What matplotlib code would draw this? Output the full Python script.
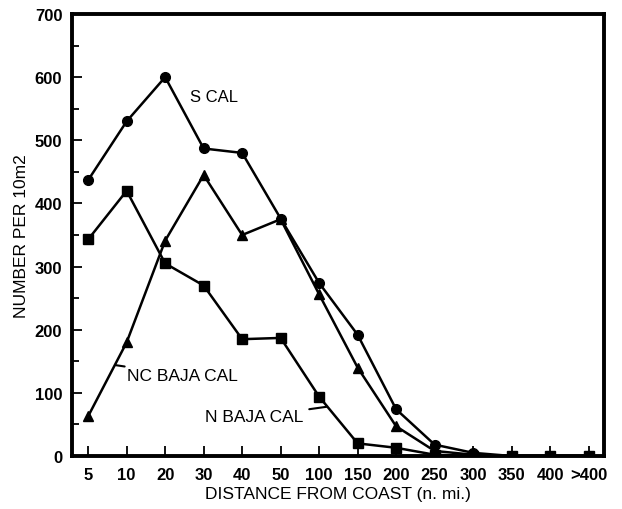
import matplotlib
matplotlib.use("Agg")
import matplotlib.pyplot as plt
from matplotlib.ticker import MultipleLocator

plt.rcParams['font.family'] = ['Liberation Sans', 'DejaVu Sans']

# distance classes (n. mi.)
distances = ['5', '10', '20', '30', '40', '50', '100', '150', '200', '250', '300', '350', '400', '>400']

# number per 10 m2
s_cal = [437, 530, 600, 487, 480, 376, 274, 192, 74, 18, 5, 0, 0, 0]
n_baja_cal = [343, 420, 305, 270, 185, 187, 94, 20, 13, 2, 0, 0, 0, 0]
nc_baja_cal = [63, 180, 341, 445, 350, 375, 256, 140, 47, 8, 2, 0, 0, 0]

fig = plt.figure(figsize=(6.22, 5.10), dpi=100)
ax = fig.add_axes([72 / 622, 1 - 457 / 510, (604 - 72) / 622, (457 - 15) / 510])

x = list(range(len(distances)))
ax.plot(x, s_cal, color='black', lw=1.8, marker='o', ms=7)
ax.plot(x, n_baja_cal, color='black', lw=1.8, marker='s', ms=6.5)
ax.plot(x, nc_baja_cal, color='black', lw=1.8, marker='^', ms=7.5)

ax.set_xlim(-0.42, 13.4)
ax.set_ylim(0, 700)
ax.set_xticks(x)
ax.set_xticklabels(distances)
ax.yaxis.set_major_locator(MultipleLocator(100))
ax.yaxis.set_minor_locator(MultipleLocator(50))
ax.tick_params(axis='both', which='both', direction='in', width=1.3, labelsize=12)
ax.tick_params(axis='both', which='major', length=7)
ax.tick_params(axis='y', which='minor', length=5)
ax.tick_params(axis='x', pad=8)
ax.tick_params(axis='y', pad=7)
for lab in ax.get_xticklabels() + ax.get_yticklabels():
    lab.set_fontweight('bold')
for sp in ax.spines.values():
    sp.set_linewidth(2.8)

ax.set_xlabel('DISTANCE FROM COAST (n. mi.)', fontsize=12.5, labelpad=3)
ax.set_ylabel('NUMBER PER 10m2', fontsize=12.5, labelpad=4)

ax.text(2.65, 570, 'S CAL', fontsize=12, va='center', ha='left')
ax.annotate('NC BAJA CAL', xy=(0.7, 144), xytext=(1.02, 128), fontsize=12.5,
            va='center', ha='left',
            arrowprops=dict(arrowstyle='-', color='black', lw=1.5, shrinkA=0, shrinkB=0))
ax.annotate('N BAJA CAL', xy=(6.2, 78), xytext=(5.6, 62), fontsize=12.5,
            va='center', ha='right',
            arrowprops=dict(arrowstyle='-', color='black', lw=1.5, shrinkA=2, shrinkB=0))

fig.savefig('out.png', dpi=100)
